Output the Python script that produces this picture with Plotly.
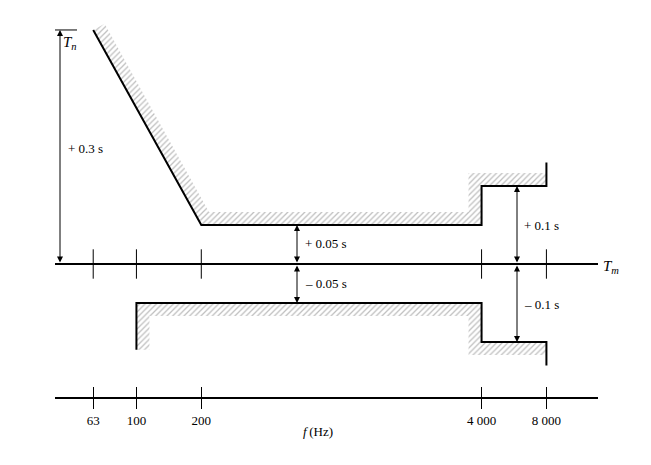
import math
import plotly.graph_objects as go

# ---- data ----
tick_freqs = [63, 100, 200, 4000, 8000]
tick_labels = ["63", "100", "200", "4 000", "8 000"]

upper_freq = [63, 200, 4000, 4000, 8000, 8000]
upper_dt = [0.30, 0.05, 0.05, 0.10, 0.10, 0.13]

lower_freq = [100, 100, 4000, 4000, 8000, 8000]
lower_dt = [-0.11, -0.05, -0.05, -0.10, -0.10, -0.13]

dim_labels = ["+ 0.3 s", "+ 0.05 s", "\u2013 0.05 s", "+ 0.1 s", "\u2013 0.1 s"]

# ---- layout constants ----
PAGE_OFF = 8                  # browser body margin
W, H = 651 - 2 * PAGE_OFF, 465 - 2 * PAGE_OFF
ML, MT = 55 - PAGE_OFF, 15 - PAGE_OFF
PW, PH = 543, 382
MR, MB = W - ML - PW, H - MT - PH
XR = [1.622, 4.1425]          # log10 range of frequency axis
YR = [-0.1705, 0.3192]        # deviation range (s)
FONT = "Liberation Serif, Times New Roman, serif"
FS = 13
HATCH_W = 13                  # px width of hatched band


def to_px(f, t):
    return ((math.log10(f) - XR[0]) / (XR[1] - XR[0]) * PW,
            (t - YR[0]) / (YR[1] - YR[0]) * PH)


def from_px(X, Y):
    return (10 ** (XR[0] + X / PW * (XR[1] - XR[0])),
            YR[0] + Y / PH * (YR[1] - YR[0]))


def band(fs, ts, side, w):
    """Polygon of a band of width w px on one side (left=+1/right=-1) of a polyline."""
    pts = [to_px(f, t) for f, t in zip(fs, ts)]
    n = len(pts)
    norms = []
    for i in range(n - 1):
        dx = pts[i + 1][0] - pts[i][0]
        dy = pts[i + 1][1] - pts[i][1]
        L = math.hypot(dx, dy)
        dx, dy = dx / L, dy / L
        norms.append((-dy * side, dx * side))
    off = []
    for i in range(n):
        if i == 0 or i == n - 1:
            nx, ny = norms[0] if i == 0 else norms[-1]
            off.append((pts[i][0] + w * nx, pts[i][1] + w * ny))
        else:
            n1, n2 = norms[i - 1], norms[i]
            k = 1 + n1[0] * n2[0] + n1[1] * n2[1]
            off.append((pts[i][0] + w * (n1[0] + n2[0]) / k,
                        pts[i][1] + w * (n1[1] + n2[1]) / k))
    poly = pts + off[::-1] + [pts[0]]
    data = [from_px(X, Y) for X, Y in poly]
    return [d[0] for d in data], [d[1] for d in data]


fig = go.Figure()

hatch = dict(shape="/", size=4, solidity=0.32, fgcolor="#808080", bgcolor="white")

ux, uy = band(upper_freq[:-1], upper_dt[:-1], +1, HATCH_W)
lx, ly = band(lower_freq[:-1], lower_dt[:-1], -1, HATCH_W)
for bx, by in [(ux, uy), (lx, ly)]:
    fig.add_trace(go.Scatter(x=bx, y=by, mode="lines", fill="toself",
                             fillcolor="white", fillpattern=hatch,
                             line=dict(width=0), hoverinfo="skip",
                             showlegend=False))

for fx, ty in [(upper_freq, upper_dt), (lower_freq, lower_dt)]:
    fig.add_trace(go.Scatter(x=fx, y=ty, mode="lines",
                             line=dict(color="black", width=2),
                             showlegend=False))

# ticks crossing the T_m reference line
fig.add_trace(go.Scatter(x=tick_freqs, y=[0] * len(tick_freqs), mode="markers",
                         xaxis="x2",
                         marker=dict(symbol="line-ns-open", size=21, color="black",
                                     line=dict(color="black", width=1)),
                         showlegend=False, hoverinfo="skip"))

shapes = [
    dict(type="line", xref="paper", yref="y", x0=0, x1=1, y0=0, y1=0,
         line=dict(color="black", width=2)),
    dict(type="line", xref="paper", yref="y", x0=0, x1=22 / PW,
         y0=upper_dt[0], y1=upper_dt[0], line=dict(color="black", width=1)),
]


def px_to_paper_x(xp):
    return (xp - PAGE_OFF - ML) / PW


def px_to_paper_y(yp):
    return (MT + PAGE_OFF + PH - yp) / PH


annotations = []
# dimension arrows
arrows = [(60, 0, upper_dt[0]),
          (297, 0, upper_dt[1]), (297, 0, lower_dt[1]),
          (517, 0, upper_dt[3]), (517, 0, lower_dt[3])]
for xp, y0, y1 in arrows:
    annotations.append(dict(xref="paper", yref="y", x=px_to_paper_x(xp), y=y1,
                            axref="pixel", ayref="y", ax=0, ay=y0,
                            text="", showarrow=True, arrowhead=2,
                            startarrowhead=2, arrowside="end+start",
                            arrowsize=1.2, startarrowsize=1.2, arrowwidth=1,
                            arrowcolor="black", standoff=0, startstandoff=0))

label_pos = [(66, 148), (303, 244), (303, 283), (522, 226), (522, 304)]
for txt, (xp, yp) in zip(dim_labels, label_pos):
    annotations.append(dict(xref="paper", yref="paper", x=px_to_paper_x(xp),
                            y=px_to_paper_y(yp), text=txt, showarrow=False,
                            xanchor="left", yanchor="middle",
                            font=dict(family=FONT, size=FS, color="black")))

annotations += [
    dict(xref="paper", yref="paper", x=px_to_paper_x(61), y=px_to_paper_y(43),
         text="<i>T<sub>n</sub></i>", showarrow=False, xanchor="left",
         yanchor="middle", font=dict(family=FONT, size=15, color="black")),
    dict(xref="paper", yref="paper", x=px_to_paper_x(601), y=px_to_paper_y(267),
         text="<i>T<sub>m</sub></i>", showarrow=False, xanchor="left",
         yanchor="middle", font=dict(family=FONT, size=15, color="black")),
    dict(xref="paper", yref="paper", x=px_to_paper_x(318), y=px_to_paper_y(432),
         text="<i>f</i>\u2009(Hz)", showarrow=False, xanchor="center",
         yanchor="middle", font=dict(family=FONT, size=FS, color="black")),
]

axis_common = dict(type="log", range=XR, showgrid=False, zeroline=False,
                   tickvals=tick_freqs, ticklen=10, tickwidth=1,
                   tickcolor="black")

fig.update_layout(
    width=W, height=H, autosize=False,
    margin=dict(l=ML, r=MR, t=MT, b=MB),
    paper_bgcolor="white", plot_bgcolor="white",
    font=dict(family=FONT, size=FS, color="black"),
    xaxis=dict(**axis_common, ticktext=tick_labels, ticks="outside",
               showline=True, linecolor="black", linewidth=2,
               tickfont=dict(family=FONT, size=FS, color="black")),
    xaxis2=dict(**axis_common, overlaying="x", anchor="y", side="bottom",
                ticks="inside", showticklabels=False, showline=False),
    yaxis=dict(range=YR, visible=False, showgrid=False, zeroline=False),
    shapes=shapes,
    annotations=annotations,
    showlegend=False,
)

fig.write_html("out.html")
